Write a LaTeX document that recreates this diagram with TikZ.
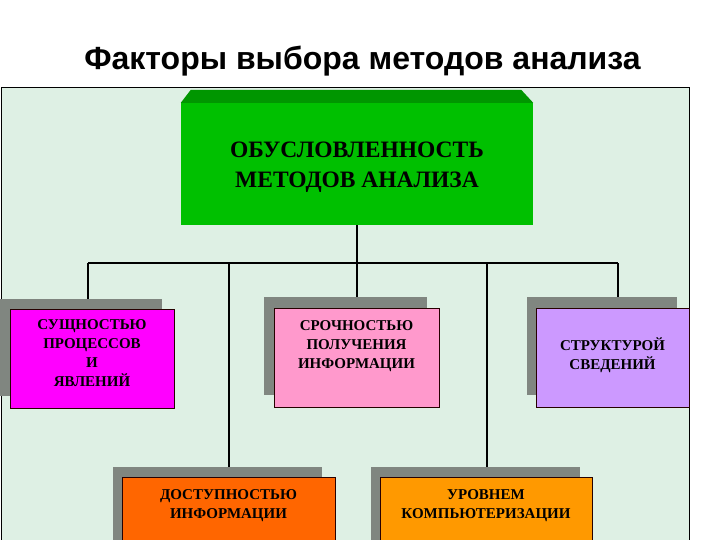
\documentclass[tikz,border=0pt]{standalone}
\usepackage{fontspec}
\setmainfont{Liberation Serif}
\newfontfamily\titlefont{Liberation Sans}
\usetikzlibrary{calc,positioning}
\definecolor{panelMint}{RGB}{222,240,228}
\definecolor{faceGreen}{RGB}{0,192,0}
\definecolor{bevelGreen}{RGB}{0,150,0}
\definecolor{shadeGray}{RGB}{128,134,128}
\definecolor{boxMagenta}{RGB}{255,0,255}
\definecolor{boxPink}{RGB}{255,153,204}
\definecolor{boxLilac}{RGB}{204,153,255}
\definecolor{boxRed}{RGB}{255,102,0}
\definecolor{boxOrange}{RGB}{255,153,0}
\tikzset{
  factor/.style={draw=black!85!red,line width=0.8pt,anchor=north,inner xsep=0pt,align=center,
    font=\bfseries\fontsize{15}{19}\selectfont},
  shade/.style={fill=shadeGray,anchor=north,inner sep=0pt},
  link/.style={line width=1.1pt,black}
}

\begin{document}
\begin{tikzpicture}[x=1pt,y=-1pt]
\useasboundingbox (0,0) rectangle (720,540);
% panel
\fill[white] (0,0) rectangle (720,540);
\draw[fill=panelMint,line width=1pt] (1,540) -- (1,88) -- (689,88) -- (689,540);
\node[font=\titlefont\bfseries\fontsize{32}{36}\selectfont] (title) at (362.5,61) {Факторы выбора методов анализа};

% top block
\node[fill=faceGreen,minimum width=352pt,minimum height=122pt,inner sep=0pt,align=center,text height=52pt,
  font=\bfseries\fontsize{23.5}{30}\selectfont] (top) at (357,164) {ОБУСЛОВЛЕННОСТЬ\\МЕТОДОВ АНАЛИЗА};
\fill[bevelGreen] (top.north west) -- ++(10,-13) -- ($(top.north east)+(-12,-13)$) -- (top.north east) -- cycle;

% shadows
\node[shade,minimum width=162pt,minimum height=97pt] (s1) at (81,299) {};
\node[shade,minimum width=163pt,minimum height=98pt] (s2) at (345.5,297) {};
\node[shade,minimum width=150pt,minimum height=98pt] (s3) at (602,297) {};
\node[shade,minimum width=209pt,minimum height=80pt] (s4) at (217.5,467) {};
\node[shade,minimum width=209pt,minimum height=80pt] (s5) at (475.5,467) {};

% factor boxes
\node[factor,fill=boxMagenta,minimum width=164pt,inner ysep=10pt,text depth=12pt] (f1) at (92,309)
  {СУЩНОСТЬЮ\\ПРОЦЕССОВ\\И\\ЯВЛЕНИЙ};
\node[factor,fill=boxPink,minimum width=165pt,inner ysep=12pt,text depth=27pt] (f2) at (356.5,308)
  {СРОЧНОСТЬЮ\\ПОЛУЧЕНИЯ\\ИНФОРМАЦИИ};
\node[factor,fill=boxLilac,minimum width=153pt,inner ysep=29pt,text depth=9pt] (f3) at (612.5,308)
  {СТРУКТУРОЙ\\СВЕДЕНИЙ};
\node[factor,fill=boxRed,minimum width=213pt,inner ysep=12pt,text depth=60pt] (f4) at (228.5,477)
  {ДОСТУПНОСТЬЮ\\ИНФОРМАЦИИ};
\node[factor,fill=boxOrange,minimum width=212pt,inner ysep=12pt,text depth=60pt] (f5) at (486,477)
  {УРОВНЕМ\\КОМПЬЮТЕРИЗАЦИИ};

% connectors
\coordinate (busL) at (88,263);
\coordinate (busR) at (618,263);
\coordinate (j4) at (229,263);
\coordinate (j5) at (487,263);
\draw[link] (top.south) -- (top.south |- busL);
\draw[link] (busL) -- (busR);
\draw[link] (busL) -- (busL |- s1.north);
\draw[link] (top.south |- busL) -- (top.south |- s2.north);
\draw[link] (busR) -- (busR |- s3.north);
\draw[link] (j4) -- (j4 |- s4.north);
\draw[link] (j5) -- (j5 |- s5.north);
\end{tikzpicture}
\end{document}
